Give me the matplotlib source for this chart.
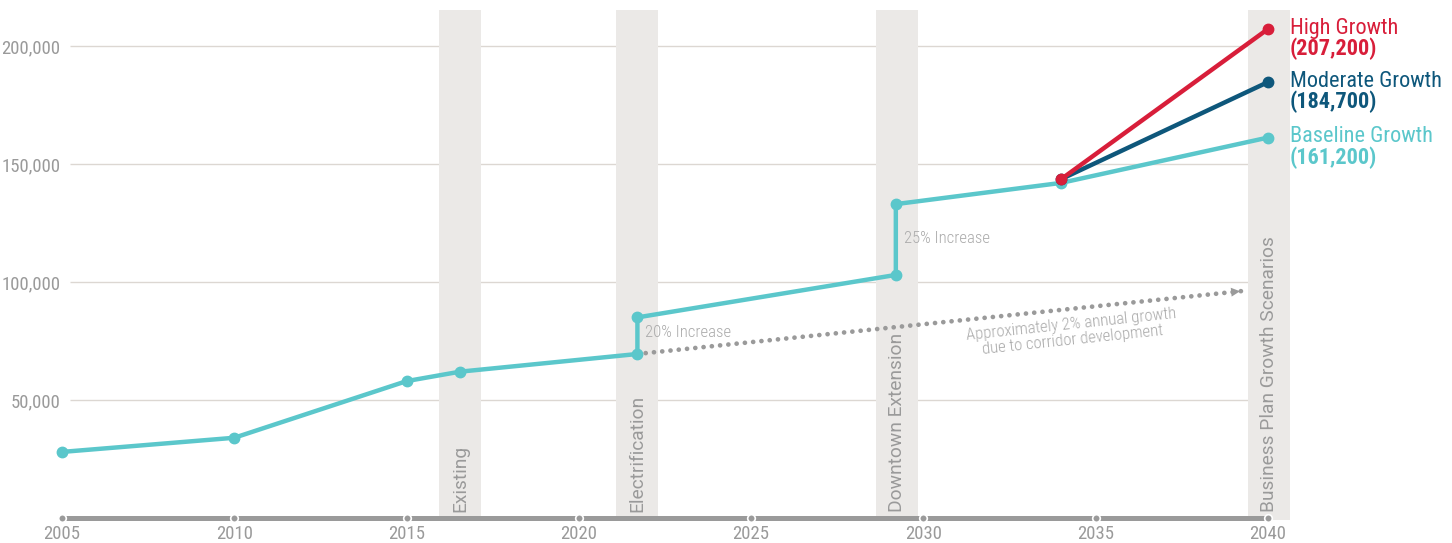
import matplotlib.pyplot as plt
from matplotlib import font_manager
import numpy as np

# data
years = [2005, 2010, 2015, 2016.55, 2021.7, 2021.7, 2029.2, 2029.2, 2034, 2040]
baseline = [28000, 34000, 58000, 62000, 69500, 85000, 103000, 133000, 142000, 161200]
moderate_x = [2034, 2040]
moderate = [143600, 184700]
high_x = [2034, 2040]
high = [143600, 207200]
trend_x = [2021.7, 2039.27]
trend_y = [69500, 96200]

bands = [(2015.94, 2017.16, 'Existing'),
         (2021.08, 2022.30, 'Electrification'),
         (2028.62, 2029.84, 'Downtown Extension'),
         (2039.42, 2040.64, 'Business Plan Growth Scenarios')]
x_ticks = [2005, 2010, 2015, 2020, 2025, 2030, 2035, 2040]
y_ticks = [50000, 100000, 150000, 200000]

teal = '#5bc7cb'
navy = '#0e577b'
red = '#d81e3a'
gray = '#9a9a9a'
light = '#aaaaaa'
band_c = '#ebe9e7'

# pick a condensed face if one is installed
installed = {f.name for f in font_manager.fontManager.ttflist}
narrow_name = 'Roboto'
for cand in ['Roboto Condensed', 'Liberation Sans Narrow', 'DejaVu Sans Condensed']:
    if cand in installed:
        narrow_name = cand
        break
shrink = 1.0 if narrow_name != 'Roboto' else 0.85
narrow = [narrow_name, 'DejaVu Sans']

fig = plt.figure(figsize=(14.52, 5.43), dpi=100)
ax = fig.add_axes([62 / 1452, 23 / 543, 1238 / 1452, 510 / 543])
ax.set_xlim(2005, 2040.93)
ax.set_ylim(-847, 215254)
for s in ax.spines.values():
    s.set_visible(False)

# grid lines
ax.hlines(y_ticks, 2005.23, 2039.42, color='#dcd7d2', lw=1, zorder=0)

# shaded bands and labels
for x0, x1, name in bands:
    ax.axvspan(x0, x1, color=band_c, lw=0, zorder=0.5)
    ax.text((x0 + x1) / 2, 2500, name, rotation=90, ha='center', va='bottom',
            color=gray, fontsize=13.8, family='Roboto', zorder=1)

# bottom axis line
ax.plot([2005, 2040], [0, 0], color=gray, lw=3.6, solid_capstyle='butt',
        clip_on=False, zorder=2)
ax.scatter(x_ticks, [0] * len(x_ticks), s=30, color=gray, edgecolor='white',
           linewidth=1.2, clip_on=False, zorder=3)

# trend arrow
ax.plot(trend_x, trend_y, color=gray, lw=3.4, linestyle=(0, (0.01, 1.75)),
        dash_capstyle='round', zorder=2)
ax.annotate('', xy=(trend_x[1], trend_y[1]),
            xytext=(trend_x[1] - 0.3, trend_y[1] - 450),
            arrowprops=dict(arrowstyle='-|>', color=gray, lw=0, mutation_scale=16),
            zorder=2)

# series
ax.plot(years, baseline, color=teal, lw=3.2, marker='o', markersize=7.5, zorder=4,
        clip_on=False)
ax.plot(moderate_x, moderate, color=navy, lw=3.2, marker='o', markersize=7.5, zorder=5,
        clip_on=False)
ax.plot(high_x, high, color=red, lw=3.2, marker='o', markersize=7.5, zorder=6,
        clip_on=False)

# annotations
note = dict(color=light, fontsize=12 * shrink, family=narrow, fontweight='light', zorder=3)
ax.text(2021.92, 78400, '20% Increase', va='center', ha='left', **note)
ax.text(2029.43, 118640, '25% Increase', va='center', ha='left', **note)
ax.text(2034.31, 78800, 'Approximately 2% annual growth\ndue to corridor development',
        ha='center', va='center', rotation=6, linespacing=1.05, **note)

# end labels
for val, name, col in [(high[1], 'High Growth', red),
                       (moderate[1], 'Moderate Growth', navy),
                       (baseline[-1], 'Baseline Growth', teal)]:
    ax.annotate(name, xy=(2040, val), xytext=(22, 1), textcoords='offset pixels',
                color=col, fontsize=16 * shrink, family=narrow, va='center', ha='left',
                annotation_clip=False)
    ax.annotate(f'({val:,})', xy=(2040, val), xytext=(22, -20),
                textcoords='offset pixels', color=col, fontsize=16 * shrink,
                fontweight='bold', family=narrow, va='center', ha='left',
                annotation_clip=False)

# ticks
ax.set_xticks(x_ticks)
ax.set_xticklabels([str(t) for t in x_ticks])
ax.set_yticks(y_ticks)
ax.set_yticklabels([f'{t:,}' for t in y_ticks])
ax.tick_params(length=0, colors=gray, labelsize=13.5 * shrink)
ax.tick_params(axis='x', pad=3.5)
ax.tick_params(axis='y', pad=1)
for lab in ax.get_xticklabels() + ax.get_yticklabels():
    lab.set_family(narrow)

fig.savefig('out.png', dpi=100)
